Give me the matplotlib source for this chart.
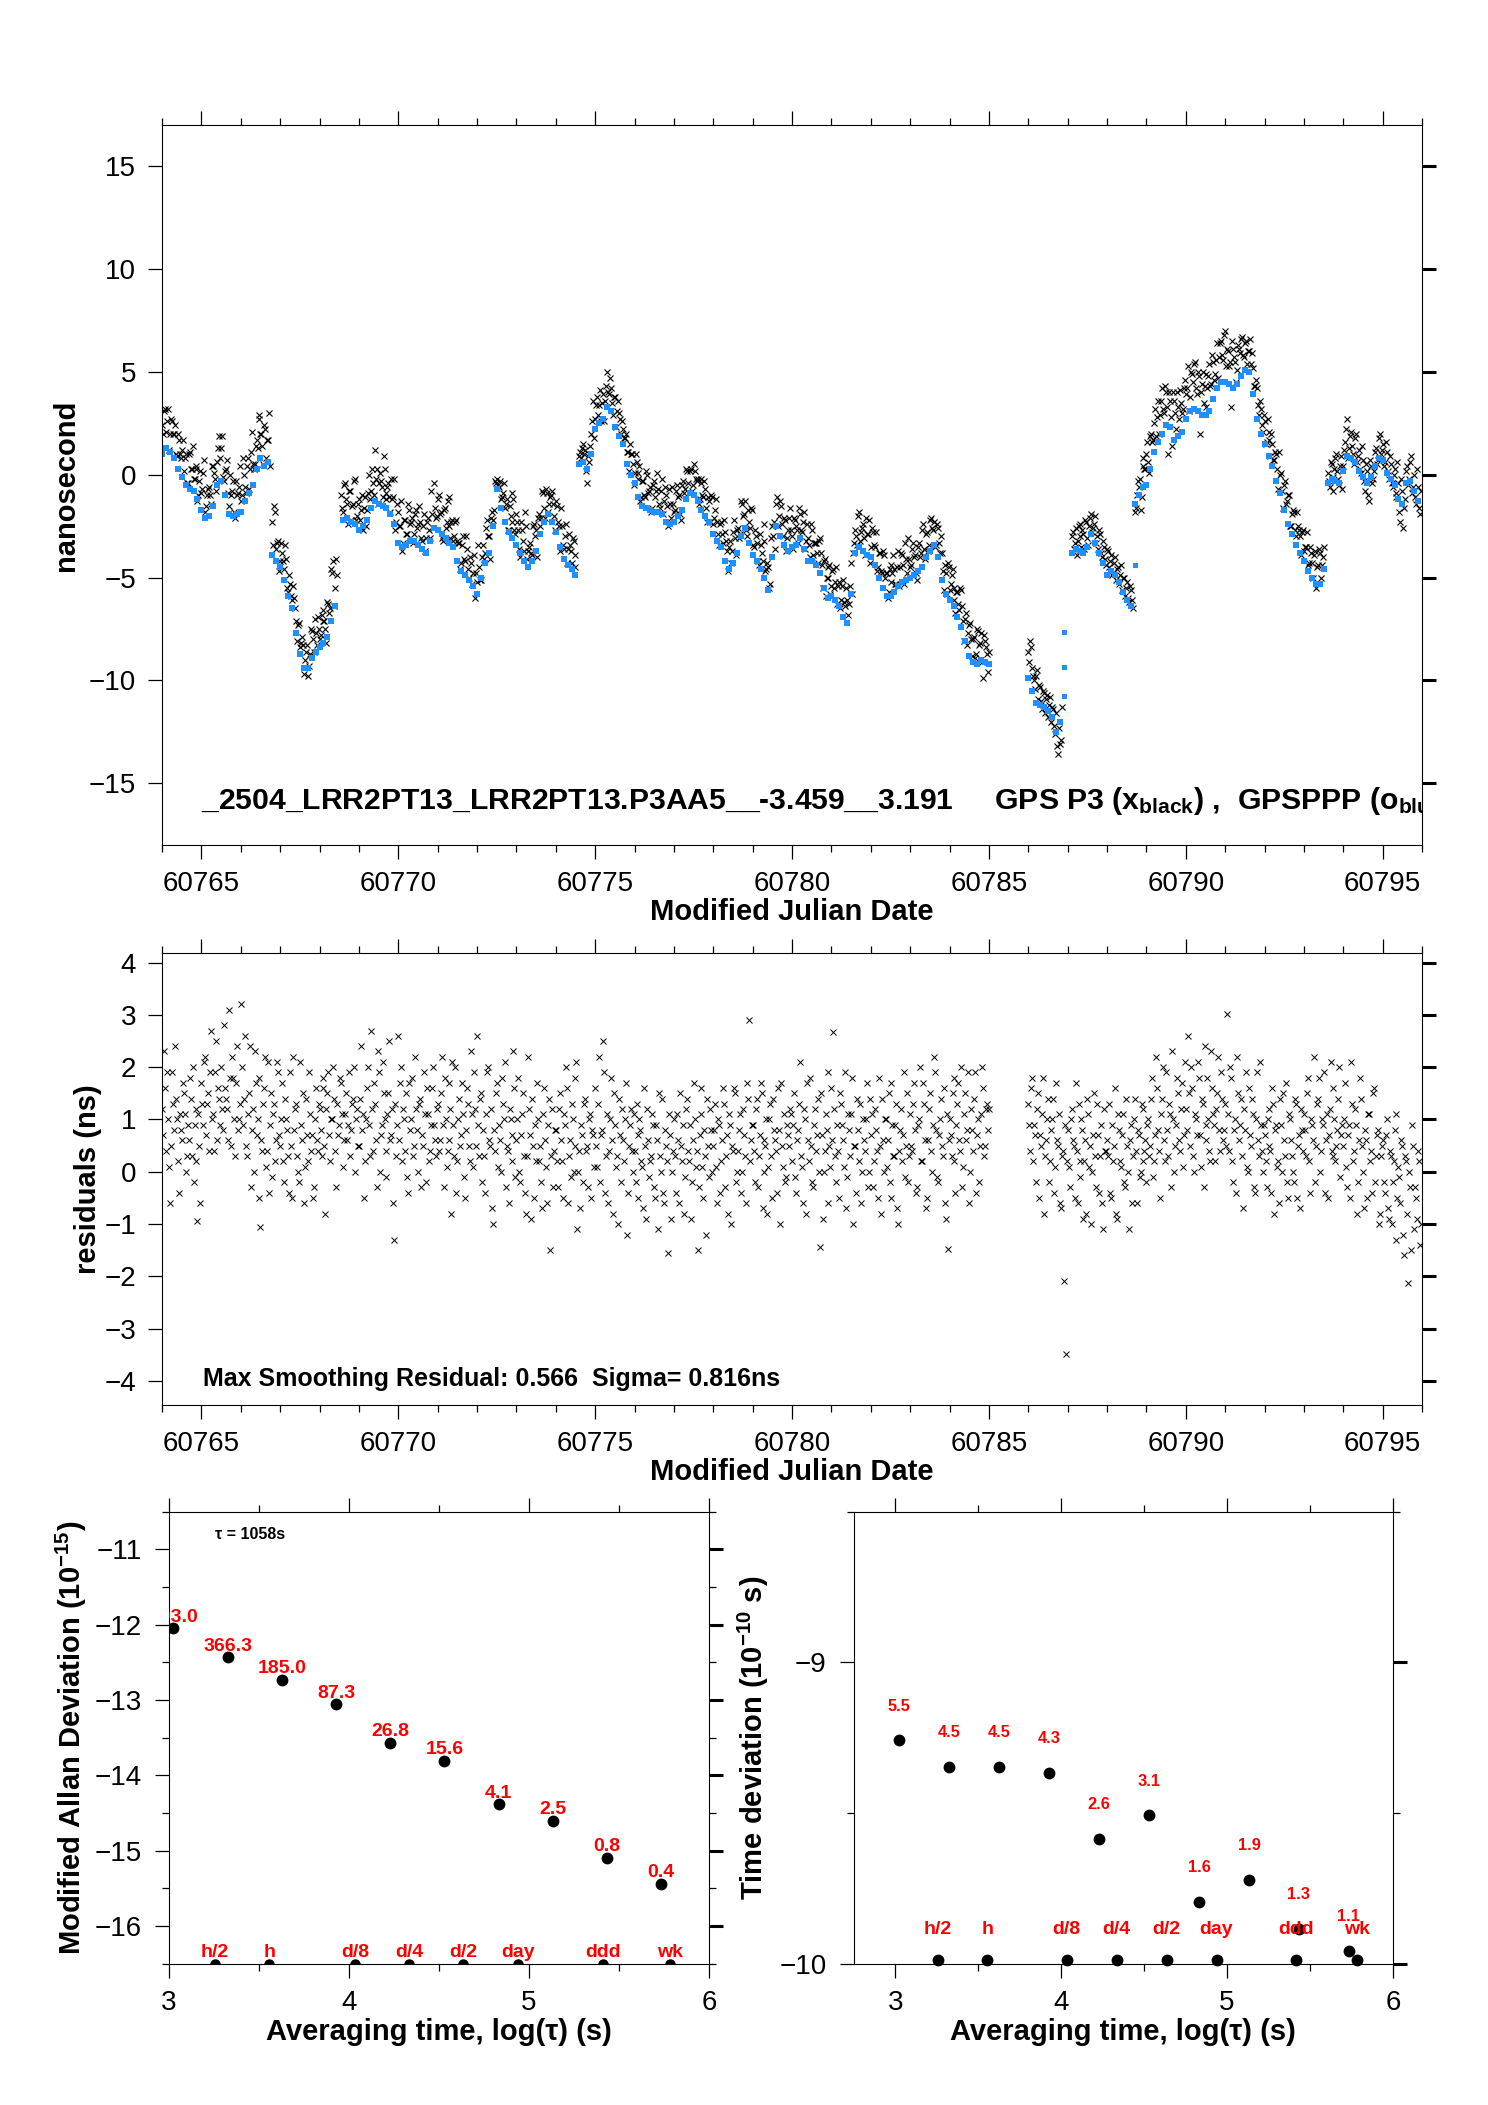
import numpy as np
import matplotlib
matplotlib.use('Agg')
import matplotlib.pyplot as plt
from matplotlib.ticker import MultipleLocator

plt.rcParams['font.family'] = ['Liberation Sans', 'DejaVu Sans']
plt.rcParams['mathtext.fontset'] = 'custom'
plt.rcParams['mathtext.rm'] = 'Liberation Sans:bold'
plt.rcParams['mathtext.it'] = 'Liberation Sans:bold'
plt.rcParams['mathtext.bf'] = 'Liberation Sans:bold'
plt.rcParams['axes.linewidth'] = 0.8

# ---- GPS P3 (black x), one value every 0.05 day from each segment start
p3Start = [60764.00, 60766.80, 60768.55, 60774.60, 60786.00, 60787.10, 60788.70, 60793.60]
p3A = [2.4, 3.1, 2.1, 3.2, 2.0, 2.6, 2.0, 1.0, 2.0, 1.0,
       1.2, 0.2, 1.0, -0.4, 1.1, 0.3, -0.2, 0.4, -1.3, -0.3,
       -0.9, 0.1, -1.8, -1.0, -0.6, -1.4, 0.4, -0.2, 0.6, 1.9,
       1.3, -0.1, 0.2, 0.7, -1.5, -1.0, -0.3, -2.1, -1.0, -0.6,
       -1.3, 0.8, -0.6, 0.4, -0.7, 1.1, 0.5, 0.5, 1.7, 2.9,
       2.0, 1.4, 2.4, 0.8, 1.7, 0.4]
p3B = [-2.3, -1.5, -3.6, -3.2, -4.2, -3.8, -4.6, -4.1, -5.7, -5.3,
       -6.1, -6.0, -7.1, -7.3, -8.4, -7.9, -9.7, -8.6, -9.8, -8.7,
       -7.6, -8.6, -7.7, -6.9, -8.0, -6.8, -7.1, -7.5, -6.2, -6.7,
       -4.6, -4.2, -5.5, -4.9]
p3C = [-1.0, -1.8, -0.4, -1.4, -0.8, -2.2, -1.4, -0.2, -2.0, -1.2, -1.7, -2.7, -1.1, -1.7, 0.0, -0.8, -0.4, 1.2, 0.3, -0.4,
       -0.3, -1.1, 0.3, -0.9, -0.4, -1.8, -1.2, -0.2, -2.3, -1.8, -2.5, -3.7, -2.2, -2.9, -1.4, -2.4, -2.1, -2.9, -1.7, -2.4,
       -2.3, -3.2, -1.9, -3.1, -2.1, -3.1, -1.9, -0.4, -2.1, -1.2, -1.9, -3.1, -1.7, -2.6, -1.3, -2.5, -2.3, -3.2, -2.3, -3.2,
       -3.3, -4.3, -3.0, -4.2, -3.6, -5.0, -4.3, -4.8, -6.0, -5.2, -4.5, -5.1, -3.4, -3.8, -2.2, -3.0, -2.1, -2.2, -0.3, -0.2,
       -0.6, -1.2, -0.9, -1.6, -1.2, -2.7, -2.0, -0.9, -2.7, -1.9, -2.7, -4.0, -2.7, -3.7, -2.5, -3.7, -3.3, -3.9, -2.4, -2.7,
       -2.1, -2.5, -0.8, -1.6, -0.7, -1.8, -1.1, -0.8, -2.0, -1.3, -2.3, -3.7, -2.5, -3.6, -2.4, -3.6, -3.4, -4.3, -3.2, -3.9]
p3D = [0.9, 0.8, 1.5, 1.2, -0.4, 0.6, 2.0, 3.6, 2.7, 3.8, 3.4, 2.6, 3.9, 3.6, 5.0, 3.9, 4.2, 2.9, 3.8, 3.1,
       3.0, 2.0, 2.2, 1.8, 1.1, 0.2, 1.0, 0.5, 0.1, 0.6, -0.2, -1.3, -0.3, -1.0, 0.2, -0.9, -0.6, -1.6, -0.3, -0.8,
       -0.7, -1.6, -0.2, -1.3, -1.0, -2.5, -1.4, -0.6, -1.8, -0.8, -1.1, -1.9, -0.5, -0.9, 0.3, -0.4, 0.2, -0.8, 0.5, -0.2,
       -0.2, -1.2, -0.4, -1.1, -0.7, -2.3, -1.3, -1.0, -2.4, -1.7, -2.3, -3.4, -2.3, -3.3, -2.8, -3.7, -3.5, -4.3, -2.8, -3.1,
       -2.7, -3.1, -1.3, -2.0, -1.3, -3.0, -2.3, -1.6, -3.4, -2.7, -3.3, -4.4, -3.4, -4.2, -3.2, -4.6, -4.5, -5.3, -2.5, -2.3,
       -1.4, -2.5, -1.3, -2.4, -2.1, -3.7, -2.7, -1.6, -3.0, -2.1, -2.5, -3.3, -1.9, -2.8, -1.8, -3.2, -3.1, -4.0, -2.7, -3.3,
       -3.3, -4.3, -3.1, -4.4, -4.2, -5.9, -5.0, -4.4, -5.4, -4.6, -5.2, -6.3, -5.2, -6.1, -5.1, -6.4, -6.1, -6.3, -4.3, -3.8,
       -2.7, -3.4, -1.8, -2.8, -2.4, -3.9, -2.9, -2.2, -3.5, -2.8, -3.5, -4.7, -3.8, -4.7, -3.7, -5.0, -4.8, -5.7, -4.4, -4.8,
       -4.6, -5.3, -3.7, -4.5, -3.9, -5.3, -4.1, -3.1, -4.5, -3.6, -4.0, -4.8, -3.5, -4.0, -2.7, -3.6, -2.9, -3.7, -2.2, -2.6,
       -2.3, -3.4, -2.6, -3.8, -3.8, -5.6, -4.8, -4.3, -5.6, -4.9, -5.5, -6.7, -5.7, -6.6, -5.6, -7.1, -7.0, -8.3, -7.3, -8.0,
       -8.0, -8.9, -7.5, -8.3, -7.7, -9.9, -8.1, -8.7, -8.6]
p3E = [-8.6, -8.1, -9.4, -10.0, -9.8, -10.9, -10.3, -11.4, -10.6, -10.9,
       -11.8, -10.8, -11.3, -12.2, -11.6, -13.6, -13.1, -11.3]
p3F = [-3.0, -3.6, -2.6, -3.2, -2.4, -3.5, -2.9, -2.2, -3.1, -2.5, -1.9, -2.6, -2.0, -3.0, -2.7, -3.8,
       -3.2, -4.1, -3.6, -4.5, -3.9, -4.8, -4.0, -4.6, -5.3, -4.4, -5.0, -5.9, -5.2, -6.2, -5.6, -6.5]
p3G = [-1.8, -1.0, -0.6, -1.7, 0.4, 0.3, 1.0, 0.6, 1.9, 1.6, 2.5, 1.9, 3.6, 2.9, 4.2, 3.0, 4.0, 1.0, 3.6, 1.4,
       3.6, 2.2, 3.3, 4.1, 3.0, 4.2, 3.9, 5.3, 3.8, 4.9, 5.4, 4.2, 5.0, 2.0, 4.4, 3.5, 4.9, 4.2, 5.4, 4.4,
       5.5, 4.9, 6.4, 5.7, 6.5, 5.6, 7.0, 6.1, 5.3, 3.3, 6.1, 5.5, 5.1, 6.1, 6.6, 5.8, 6.4, 5.4, 6.0, 5.4,
       5.2, 4.3, 4.2, 2.9, 3.2, 2.1, 2.6, 1.6, 2.1, 0.9, 1.5, 0.7, 1.0, -0.7, 0.0, -0.8, -0.5, -1.4, -1.0, -2.5,
       -1.9, -1.8, -3.0, -2.5, -3.0, -2.8, -3.7, -3.5, -4.4, -3.5, -4.3, -3.9, -5.5, -4.4, -3.8, -4.4, -3.5]
p3H = [0.1, -0.6, 0.5, -0.1, 0.8, 0.2, -0.5, 0.9, 0.4, 1.6, 2.7, 1.3, 2.1, 1.0, 1.8, 0.6,
       1.2, 0.1, 0.7, -0.8, 0.2, -1.3, 0.4, -0.2, 1.1, 0.5, 1.8, 1.0, 1.5, 0.6, 1.1, -0.2,
       0.5, -0.6, 0.3, -1.1, -0.4, -2.3, -0.8, -1.6, 0.2, -0.5, 0.6, -0.9, 0.0, -1.4, -0.6, -1.9]

# second interleaved set of P3 samples (0.025 day later)
p3Start2 = [60764.025, 60766.825, 60768.575, 60774.625, 60786.025, 60787.125, 60788.725, 60793.625]
p3A2 = [2.0, 3.2, 2.6, 1.2, 2.7, 2.0, 2.4, 0.9, 1.7, 0.8, 1.7, 0.8, -0.4, 1.0, 0.3, 1.4, -0.2, 0.3, -1.0, 0.2,
        -0.7, 0.7, -1.5, -0.7, -1.0, 0.4, 0.1, -0.8, 1.3, 0.8, 1.9, -0.3, 0.3, -0.9, 0.0, -0.8, -1.8, -0.3, -0.9, 0.4,
        -1.0, 0.0, -0.9, 0.8, 0.3, 2.1, 0.3, 1.4, 1.3, 2.7, 2.0, 0.5, 2.2, 1.7, 3.0]
p3B2 = [-3.4, -1.8, -3.3, -4.7, -3.3, -4.2, -3.4, -5.5, -4.9, -5.9, -5.4, -6.5, -8.1, -7.2, -8.2, -8.3, -9.0,
        -8.3, -9.3, -7.5, -8.0, -7.0, -8.3, -7.5, -7.8, -6.6, -7.1, -8.2, -6.3, -6.5, -4.8, -6.4, -4.1]
p3C2 = [-1.6, -0.5, -1.2, -2.4, -0.8, -1.5, -0.3, -2.2, -1.4, -2.2, -1.0, -1.6, -2.5, -0.9, -1.2, 0.3, -1.0, -0.2, -1.4, 0.1,
        -0.6, 0.9, -1.2, -0.6, -1.1, -0.2, -1.1, -2.7, -1.4, -2.5, -1.3, -3.3, -2.2, -2.9, -1.7, -2.3, -3.3, -1.9, -2.6, -1.5,
        -3.1, -2.5, -3.7, -2.3, -2.7, -0.8, -2.6, -1.6, -2.0, -1.0, -1.8, -3.2, -1.6, -2.3, -1.1, -3.1, -2.2, -3.0, -2.2, -3.3,
        -4.6, -3.4, -4.1, -3.0, -4.6, -4.0, -5.3, -3.9, -4.8, -3.4, -5.1, -4.0, -4.1, -2.6, -3.0, -4.1, -1.8, -1.7, -0.4, -0.5,
        -0.3, -1.1, -0.4, -1.4, -2.7, -1.5, -2.3, -1.2, -2.9, -2.3, -3.6, -2.3, -3.2, -1.8, -4.1, -3.5, -3.8, -2.5, -3.0, -4.0,
        -1.9, -2.1, -0.9, -2.1, -0.9, -1.4, -1.0, -1.4, -2.7, -1.5, -2.5, -1.6, -3.4, -3.0, -4.3, -2.9, -3.7, -3.1, -4.5]
p3D2 = [1.1, 1.3, 1.0, 0.2, 0.9, 1.4, 2.6, 1.8, 3.4, 2.9, 4.1, 3.5, 2.6, 4.3, 4.0, 4.7, 3.5, 3.8, 2.3, 3.6, 2.7, 2.6, 1.8, 2.0,
        1.1, 1.5, 1.0, -0.5, 1.0, 0.1, 0.4, -1.1, -0.3, -1.1, 0.0, -0.8, -1.8, -0.5, -1.1, 0.1, -1.4, -0.8, -1.9, -0.6, -1.5, -0.7, -2.1, -1.4,
        -1.7, -0.5, -1.0, -2.2, -0.3, -0.7, 0.2, -0.9, 0.3, -0.5, 0.2, -0.3, -1.4, -0.2, -1.0, -0.3, -1.6, -1.1, -2.3, -1.1, -2.1, -1.2, -2.9, -2.4,
        -2.9, -2.2, -3.2, -4.7, -3.2, -3.7, -2.2, -3.9, -2.6, -2.9, -1.4, -1.9, -2.7, -1.7, -2.6, -1.7, -3.5, -3.0, -4.2, -2.9, -3.8, -2.4, -4.7, -4.3,
        -5.5, -3.1, -3.0, -3.6, -1.1, -2.0, -1.5, -3.0, -2.2, -3.1, -2.1, -2.7, -3.6, -2.2, -2.7, -1.6, -2.7, -2.3, -3.6, -2.4, -3.4, -2.4, -3.9, -3.3,
        -3.8, -3.2, -3.8, -5.5, -4.1, -5.0, -4.5, -5.8, -4.7, -5.5, -4.5, -5.4, -6.5, -5.4, -6.2, -5.5, -6.8, -5.4, -5.8, -3.3, -3.0, -2.0, -3.2, -2.6,
        -3.1, -2.1, -2.9, -4.3, -2.6, -3.4, -2.8, -4.5, -3.8, -4.8, -3.9, -4.8, -6.0, -4.6, -5.2, -3.9, -5.3, -4.5, -5.4, -3.8, -4.4, -3.3, -4.8, -4.1,
        -4.4, -3.3, -3.9, -5.1, -3.3, -3.8, -2.4, -4.1, -2.8, -3.4, -2.1, -2.7, -3.5, -2.4, -3.3, -3.0, -4.7, -4.4, -5.8, -4.5, -5.3, -4.6, -6.1, -5.7,
        -6.3, -5.5, -6.4, -8.1, -6.7, -7.7, -7.2, -8.8, -7.9, -8.7, -7.6, -8.2, -9.1, -7.8, -8.4, -9.6]
p3E2 = [-9.1, -8.4, -9.8, -10.4, -9.5, -10.2, -11.0, -10.5, -11.6, -10.7, -11.2, -12.0, -11.4, -12.6, -13.2, -12.3, -12.9]
p3F2 = [-2.8, -3.3, -3.9, -2.5, -3.0, -2.7, -3.6, -2.3, -3.4, -2.1, -2.8, -2.4, -3.3, -3.6, -2.9, -4.0,
        -3.5, -4.4, -3.7, -4.2, -4.9, -4.3, -5.1, -4.5, -4.9, -5.6, -5.0, -5.5, -6.0, -5.4, -6.1]
p3G2 = [-1.6, -0.3, -0.2, -1.1, 0.8, 0.3, 1.6, 0.1, 2.0, 1.7, 3.2, 2.8, 2.0, 3.6, 3.2, 4.3, 3.3, 4.0, 2.8, 4.0, 3.0, 4.0, 2.7, 3.5,
        3.2, 4.6, 4.2, 3.1, 5.0, 4.5, 5.5, 3.9, 4.8, 4.0, 5.0, 4.3, 3.3, 4.8, 4.3, 5.8, 4.6, 5.6, 4.7, 6.4, 5.8, 6.8, 5.3, 6.0,
        5.5, 6.5, 5.7, 4.5, 6.3, 5.9, 6.7, 5.7, 6.5, 6.0, 6.6, 5.9, 4.3, 4.6, 3.4, 3.6, 2.4, 2.9, 1.5, 2.7, 1.7, 2.0, 0.7, 1.1,
        0.3, 1.1, 0.1, -1.6, -0.3, -1.3, -1.0, -2.5, -1.7, -2.7, -1.8, -2.7, -3.9, -2.7, -3.5, -2.8, -4.3, -3.8, -5.0, -3.7, -4.5, -3.6, -5.0, -4.0]
p3H2 = [-0.3, 0.6, -0.8, 0.3, 1.0, -0.2, 0.4, -0.7, 1.2, 2.2, 0.8, 1.9, 1.4, 0.5, 2.0, 0.9,
        0.3, 1.4, -0.3, 0.5, -1.0, 0.7, -0.4, 0.2, 1.3, 0.7, 2.0, 1.2, 0.4, 1.6, 0.2, 0.9,
        -0.4, 0.0, -0.9, 0.6, -1.8, -0.2, -2.6, -1.2, 0.4, -0.2, 0.9, -0.6, -1.1, 0.3, -1.6, -0.8]
p3Segs = [p3A, p3B, p3C, p3D, p3E, p3F, p3G, p3H]
p3Segs2 = [p3A2, p3B2, p3C2, p3D2, p3E2, p3F2, p3G2, p3H2]

# ---- GPSPPP (blue), one value every 0.1 day from each segment start
pppStart = [60764.0, 60766.8, 60768.6, 60774.6, 60786.0, 60787.1, 60788.7, 60793.6]
pppA = [1.0, 1.3, 1.1, 0.8, 0.3, -0.1, -0.5, -0.7, -0.8, -1.2, -1.7, -2.1, -2.0, -1.5,
        -0.5, -0.3, -1.0, -1.9, -2.0, -1.9, -1.8, -1.3, -0.9, -0.5, 0.3, 0.8, 0.4, 0.6]
pppB = [-3.9, -4.2, -4.5, -5.1, -5.9, -6.5, -7.7, -8.7, -9.4, -9.4, -8.9, -8.6, -8.4, -8.2, -7.9, -7.1, -6.4]
pppC = [-2.2, -2.1, -2.3, -2.4,
        -2.7, -2.5, -2.2, -1.6, -1.3, -1.4, -1.5, -1.6, -1.9, -2.4,
        -3.3, -3.5, -3.4, -3.2, -3.2, -3.4, -3.6, -3.8, -3.2, -2.6,
        -2.7, -2.9, -3.1, -3.3, -3.5, -4.2, -4.7, -4.9, -5.1, -5.4,
        -5.8, -5.0, -4.3, -3.8, -2.5, -0.7, -1.6, -2.3, -2.8, -3.1,
        -3.4, -3.8, -4.2, -4.5, -4.2, -3.7, -2.9, -2.3, -1.9, -2.3,
        -2.8, -3.5, -4.1, -4.4, -4.6, -4.9]
pppD = [0.5, 0.6, 0.3, 1.0,
        2.2, 2.5, 2.7, 3.3, 3.1, 2.3, 1.9, 1.5, 0.5, 0.0,
        -0.4, -1.1, -1.5, -1.6, -1.7, -1.8, -1.8, -1.9, -2.3, -2.4,
        -2.3, -2.0, -1.7, -1.2, -0.9, -1.0, -1.3, -1.7, -2.0, -2.3,
        -2.9, -3.2, -3.5, -4.2, -4.6, -4.3, -3.8, -3.0, -2.6, -3.3,
        -3.9, -4.2, -4.6, -5.0, -5.6, -4.0, -2.5, -3.0, -3.4, -3.7,
        -3.5, -3.4, -3.1, -3.6, -4.2, -4.2, -4.4, -4.8, -5.5, -6.0,
        -5.9, -6.1, -6.4, -6.9, -7.2, -5.8, -3.8, -3.5, -3.7, -3.9,
        -4.0, -4.4, -5.0, -5.5, -5.9, -5.9, -5.7, -5.4, -5.2, -5.1,
        -5.0, -4.9, -4.7, -4.5, -4.0, -3.7, -3.4, -4.0, -5.1, -5.8,
        -6.1, -6.4, -6.9, -7.4, -8.1, -8.8, -9.1, -9.2, -9.0, -9.1,
        -9.2]
pppE = [-9.9, -10.5, -11.1, -11.2, -11.3, -11.5, -11.8, -12.5, -12.0]
pppF = [-3.8, -3.6, -3.7, -3.8, -3.5, -2.9, -3.3, -3.8, -4.3, -4.9, -4.7, -4.9, -5.2, -5.7, -6.1, -6.4]
pppG = [-1.4, -1.0, -0.6,
        -0.5, 0.3, 1.1, 1.6, 2.0, 2.4, 2.3, 1.7, 1.9, 2.1,
        2.7, 3.1, 3.2, 3.1, 2.9, 2.9, 3.1, 3.7, 4.2, 4.5,
        4.5, 4.4, 4.2, 4.4, 4.8, 5.1, 5.0, 3.9, 2.7, 2.0,
        1.5, 0.9, 0.4, -0.3, -0.9, -1.7, -2.4, -2.9, -3.4, -3.8,
        -4.2, -4.7, -5.0, -5.3, -5.3, -4.6]
pppH = [-0.4, -0.2, -0.3, -0.4, 0.2, 0.9, 0.8, 0.6, 0.2, -0.1, -0.4, -0.1,
        0.4, 0.8, 0.7, 0.1, -0.2, -0.5, -1.2, -1.4, -0.4, -0.3, -0.8, -1.3]
pppSegs = [pppA, pppB, pppC, pppD, pppE, pppF, pppG, pppH]
pppLoneMjd = [60786.91, 60786.91, 60786.90, 60788.71]
pppLoneVal = [-7.65, -9.35, -10.75, -4.38]

# ---- residuals (ns), one value every 0.05 day, two interleaved sets
resStart = [60764.0, 60786.0]
resA = [1.2, 2.3, 0.4, 1.0, -0.6, 1.9, 0.8, 1.4, 0.2, 1.1, 0.6, 1.5, 0.0, 0.9, 1.8, 0.3, -0.2, 1.2, -0.95, 0.5,
        1.7, 0.9, 2.2, 1.3, 0.4, 2.7, 1.1, 1.9, 0.6, 1.4, 2.0, 0.8, 1.6, 1.2, 3.1, 0.5, 1.8, 0.3, 2.4, 1.0,
        3.2, 0.9, 2.6, 0.3, 1.5, -0.3, 1.2, 2.3, 0.7, 1.8, -1.05, 0.4, 1.6, 0.1, 2.1, 0.9, -0.1, 1.3, 0.6, 1.9,
        0.5, 1.7, -0.2, 1.0, 0.3, 1.9, -0.5, 0.8, 1.3, 0.0, 2.1, 0.6, -0.6, 1.4, 0.2, 1.1, 0.7, -0.3, 1.6, 0.4,
        1.2, 0.3, 1.8, -0.8, 1.5, 0.7, 1.0, 2.0, 0.4, 1.3, 0.9, 1.7, 0.1, 1.1, 0.6, 1.9, 0.8, 1.4, 0.0, 1.2,
        0.5, 2.4, 1.1, 0.2, 1.6, 0.9, 2.7, 0.4, 1.3, -0.3, 1.9, 0.7, 2.1, 1.0, -0.1, 1.5, 0.6, 1.2, -1.3, 0.3,
        2.6, 1.7, 0.2, 1.0, 1.5, -0.4, 0.8, 1.8, 0.5, 1.2, 0.0, 1.4, 0.7, 1.9, -0.2, 1.1, 0.4, 1.6, 0.9, 0.3,
        1.3, 0.6, 2.2, -0.3, 1.0, 0.4, 1.7, -0.8, 0.9, 2.0, 0.2, 1.4, 0.7, 1.1, -0.5, 1.6, 0.5, 2.3, 0.1, 1.2,
        2.6, 0.3, 1.5, 0.8, -0.4, 1.9, 0.6, 1.2, -1.0, 0.4, 1.7, 0.9, 0.0, 1.3, 2.1, 0.5, -0.6, 1.0, 0.2, 1.6,
        0.6, 1.8, -0.2, 1.1, 0.3, -0.8, 2.2, 0.7, 1.4, -0.5, 0.2, 1.0, 0.5, -0.7, 1.6, 0.1, 0.9, -1.5, 1.2, 0.4,
        0.8, -0.3, 1.5, 0.2, 1.1, 2.0, -0.6, 0.6, 1.3, 0.0, 1.8, -1.1, 0.4, 0.9, -0.2, 1.4, 0.5, 1.0, -0.5, 0.7,
        1.6, 0.1, 2.2, 0.7, 2.5, -0.4, 1.1, 0.4, 1.8, -0.8, 0.9, 0.3, 1.4, -0.2, 0.6, 1.0, -1.2, 0.5, 1.2, 0.0,
        0.4, 1.3, -0.5, 0.8, 0.1, 1.6, -0.9, 0.6, 0.2, 1.1, -0.3, 0.9, -1.1, 0.3, 1.4, -0.6, 0.5, -1.55, 0.7, 0.0,
        1.0, -0.4, 0.6, 1.5, 0.2, -0.8, 1.2, 0.4, 0.9, -0.2, 1.7, 0.1, -1.5, 0.7, 1.1, -0.5, 0.3, 1.4, -0.1, 0.8,
        0.5, 1.3, -0.6, 0.9, 0.2, 1.6, -0.3, 0.7, 1.1, -1.0, 0.4, 1.5, 0.0, 0.8, -0.4, 1.2, 0.3, 1.7, 2.9, 0.6,
        0.9, -0.2, 1.4, 0.3, 1.7, -0.7, 0.6, 1.0, 0.1, 1.3, -0.5, 0.8, 0.4, 1.6, -1.0, 0.5, 1.1, -0.1, 0.7, 1.2,
        0.2, 1.5, -0.4, 0.8, 2.1, 0.1, 1.2, -0.8, 0.6, 1.8, -0.2, 0.9, 0.4, 1.4, -1.44, 0.7, 0.0, 1.1, -0.6, 0.5,
        1.6, 2.68, 0.3, 0.9, -0.5, 1.3, 0.6, 1.9, -0.1, 0.8, 1.1, -1.0, 0.5, 1.4, 0.2, -0.6, 1.0, 0.4, 1.7, 0.0,
        0.7, -0.3, 1.2, 0.4, 1.8, -0.8, 0.6, 1.0, 0.1, 1.5, -0.5, 0.9, 0.3, 1.3, -1.0, 0.8, 0.2, 1.9, 0.5, -0.2,
        1.1, 0.4, 1.7, -0.4, 0.9, 2.0, 0.2, 1.3, -0.7, 0.6, 1.5, 0.0, 2.2, 0.8, -0.2, 1.0, 0.5, 1.6, -0.9, -1.47,
        1.0, 0.3, 1.8, -0.4, 1.3, 0.6, 2.0, 0.1, 1.5, 0.8, -0.6, 1.2, 0.4, 1.9, 0.7, -0.2, 1.1, 1.6, 0.5, 1.3,
        1.2]
resB = [1.3, 0.4, 1.8, 0.9, -0.2, 1.5, 0.7, 1.1, -0.8, 0.6, 1.4, 0.2, 1.0, -0.4, 1.7, 0.5, -0.6, 0.3, -2.08, -3.48,
        0.8, -0.3, 1.2, 0.5, 1.7, -0.6, 0.2, 1.0, -0.9, 0.6, 1.4, 0.1, -1.0, 0.7, 0.3, 1.3, -0.4, 0.9, -1.1, 0.4,
        0.6, 1.3, -0.5, 0.2, 1.6, -0.9, 0.8, 0.1, 1.1, -0.3, 0.5, -1.1, 0.9, 0.3, 1.4, -0.6, 0.7, 0.0, 1.2, 0.4,
        -0.2, 1.0, 0.5, 1.8, 0.2, 2.2, 0.8, -0.5, 1.4, 0.6, 1.9, 0.3, 1.1, 2.3, 0.0, 0.9, 1.5, 0.4, 1.7, 0.7,
        1.2, 2.6, 0.5, 1.6, 0.0, 1.0, 2.1, 0.7, 1.4, -0.3, 0.9, 1.8, 0.4, 2.3, 1.1, 0.2, 1.5, 0.8, 1.9, 0.6,
        1.3, 3.02, 0.4, 1.8, -0.2, 1.0, 2.2, 0.6, 1.4, -0.7, 0.8, 0.1, 1.6, 0.5, 1.1, -0.4, 1.9, 0.3, 0.9, 0.0,
        0.7, -0.3, 1.2, 0.4, 1.6, -0.8, 0.9, 0.2, 1.4, 0.0, 0.6, 1.7, -0.5, 1.0, 0.3, -0.2, 1.3, 0.5, -0.7, 0.8,
        1.1, 0.3, 1.8, -0.4, 0.9, 2.2, 0.5, 1.4, 0.0, 1.0, 1.9, 0.6, -0.5, 1.2, 0.4, 1.6, 0.2, 0.8, 2.0, 0.7,
        0.5, 1.7, -0.3, 0.9, 2.1, 0.2, 1.2, -0.8, 0.6, 1.4, 0.0, 0.8, -0.5, 1.1, 0.4, 1.5, -0.2, 0.7, -1.0, 0.3,
        0.6, -0.4, 1.0, -0.9, 0.3, -0.2, 0.8, -1.3, 0.1, -0.6, 0.5, -1.6, 0.2, -2.12, -0.3, 0.9, -1.1, -0.5, 0.4, -1.4]
resStart2 = [60764.025, 60786.025]
resA2 = [0.7, 1.6, 1.9, 0.1, 0.5, 1.3, 2.4, 1.0, -0.4, 0.8, 1.7, 1.1, 0.3, 0.6, 1.4, 2.0, 0.9, 0.2, 1.1, -0.6,
         1.3, 2.1, 0.7, 1.5, 1.9, 1.0, 0.4, 2.5, 1.6, 0.9, 1.2, 2.8, 1.4, 0.6, 1.8, 2.2, 1.0, 1.7, 0.8, 1.3,
         2.0, 1.4, 0.5, 1.1, 2.4, 0.8, 0.0, 1.7, 1.0, -0.5, 0.6, 1.3, 2.2, 0.4, -0.4, 1.5, 1.1, 0.2, 2.1, 0.7,
         1.0, 0.2, 1.4, 0.8, -0.4, 0.5, 2.2, 1.2, 0.3, -0.2, 0.9, 1.5, 0.1, 0.7, 1.9, 0.4, -0.5, 1.0, 0.6, 1.3,
         0.8, 1.6, 0.5, 1.2, 1.9, 0.2, 1.0, 1.4, -0.3, 0.7, 1.8, 1.1, 0.6, 1.5, 0.9, 0.3, 1.3, 2.0, 1.0, 0.5,
         1.4, 0.8, -0.5, 1.0, 2.0, 0.3, 1.2, 1.7, 0.6, 2.3, 0.0, 0.9, 1.5, 0.4, 1.1, 2.5, 0.7, -0.6, 1.3, 0.9,
         0.6, 2.0, 1.2, 0.4, -0.1, 1.7, 1.0, 0.3, 2.2, 0.8, 1.3, -0.3, 0.5, 1.1, 1.6, 0.2, 0.9, 2.0, 0.6, 1.2,
         0.4, 1.5, 0.9, 1.8, 0.1, 0.6, 1.2, 2.1, 0.3, -0.4, 1.0, 0.5, 1.7, -0.1, 0.8, 1.3, 0.2, 1.1, 1.9, 0.5,
         0.9, 1.4, -0.2, 0.3, 1.1, 2.0, 0.5, -0.7, 0.8, 1.5, 0.1, 0.6, 1.8, 1.0, -0.3, 0.4, 1.2, 0.7, 2.3, -0.1,
         1.0, 0.0, 0.7, 1.5, -0.4, 0.3, 1.2, -0.9, 0.5, 0.9, 1.7, 0.2, -0.2, 1.1, 0.6, -0.6, 1.4, 0.3, -0.3, 0.8,
         0.2, 1.2, 0.6, -0.5, 0.9, 1.6, 0.3, -0.1, 1.0, 0.5, 2.1, 0.0, -0.7, 0.7, 1.3, 0.4, -0.3, 1.1, 0.8, 0.1,
         0.5, 1.3, -0.2, 0.8, 1.9, 0.3, -0.6, 1.0, 0.6, 1.5, 0.1, -1.0, 0.7, 1.2, 0.2, 1.7, -0.4, 0.9, 0.4, 1.1,
         -0.2, 0.7, 1.0, 0.2, -0.7, 0.5, 1.2, -0.1, 0.3, 0.9, -0.5, 0.6, 1.5, 0.0, -0.4, 0.8, 0.2, 1.1, -0.9, 0.4,
         0.3, 1.1, -0.6, 0.5, 0.9, -0.1, 1.4, 0.2, -0.9, 0.6, 1.0, 0.4, -0.3, 1.6, 0.1, 0.8, -1.2, 0.5, 1.2, 0.0,
         0.8, 0.1, 1.0, -0.4, 0.6, 1.3, 0.3, -0.8, 0.9, 0.5, 1.6, -0.2, 0.4, 1.1, 0.0, 0.7, -0.6, 1.4, 0.2, 0.9,
         0.4, 1.2, -0.3, 0.7, 1.5, 0.0, 0.5, -0.8, 1.0, 0.3, 1.4, 0.6, -0.4, 0.8, 1.7, 0.1, -0.2, 0.9, 0.5, 1.1,
         0.9, -0.1, 0.6, 1.3, 0.3, -0.6, 1.0, 1.7, 0.2, 0.5, -0.3, 1.2, 0.7, 0.0, 1.5, -0.9, 0.4, 0.8, 1.9, 0.1,
         0.6, 1.2, -0.2, 0.4, 1.5, 0.9, 0.1, -0.7, 1.1, 0.3, 1.8, 0.5, -0.4, 0.8, 1.3, 0.0, 0.6, 1.0, -0.3, 1.4,
         1.1, 0.2, 0.8, -0.5, 0.5, 1.4, 0.0, 1.0, 0.6, -0.2, 1.7, 0.3, 0.9, -0.7, 0.4, 1.2, 0.7, -0.1, 1.5, 0.3,
         0.5, 1.3, 0.8, -0.3, 1.0, 0.2, 1.7, 0.6, -0.5, 1.2, 0.4, 0.9, 1.9, -0.1, 0.7, 1.4, 0.3, -0.6, 1.1, 0.6,
         0.7, 1.5, 0.2, 0.9, 1.7, 0.4, -0.3, 1.1, 0.6, 1.9, 0.0, 0.8, 1.4, -0.4, 1.0, 0.5, 2.0, 0.3, 1.2, 0.8]
resB2 = [0.9, 1.6, 0.2, 0.7, 1.2, -0.5, 0.5, 1.8, 0.3, 1.0, -0.2, 0.8, 1.4, 0.1, 0.6, 1.1, -0.7, 0.4, 0.9, 0.2,
         0.1, 1.0, 0.6, -0.5, 0.4, 1.3, -0.1, 0.8, 0.2, -0.8, 1.1, 0.5, 0.0, 1.5, -0.3, 0.7, 0.3, -0.6, 1.2, 0.4,
         0.3, -0.4, 0.9, 0.5, -0.8, 1.1, 0.2, 0.7, -0.2, 1.4, 0.0, 0.6, -0.6, 1.0, 0.4, 0.8, -0.1, 1.3, 0.2, 0.6,
         0.9, 0.3, 1.4, -0.1, 0.7, 1.6, 0.4, 1.1, 2.0, 0.2, 0.8, 1.3, -0.3, 1.0, 0.5, 1.8, 0.6, 1.2, 0.1, 2.1,
         0.8, 1.5, 2.0, 0.3, 1.1, 0.7, 1.8, 0.1, 1.3, 2.4, 0.6, 1.0, 0.2, 1.6, 0.9, 1.2, 2.2, 0.4, 1.4, 0.8,
         0.5, 1.1, 2.0, 0.2, 0.8, -0.4, 1.5, 0.9, 0.3, 1.2, 1.9, 0.0, 0.7, 1.4, -0.3, 1.0, 0.6, 2.1, 0.4, 0.9,
         0.2, 1.0, 0.5, -0.4, 1.3, 0.8, 0.1, -0.6, 0.9, 1.5, 0.3, -0.2, 1.1, 0.6, 0.0, 1.4, -0.5, 0.7, 1.2, 0.4,
         0.8, 1.5, 0.2, 1.0, 0.6, -0.2, 1.3, 1.8, 0.4, 0.9, -0.4, 1.1, 0.7, 2.1, 0.3, 1.0, 0.5, 1.4, -0.1, 0.9,
         1.0, 0.1, 0.7, -0.5, 1.3, 0.4, 0.9, -0.2, 1.8, 0.5, -0.7, 0.6, 1.1, 0.2, -0.4, 1.6, 0.3, 0.8, -0.8, 0.5,
         -0.2, 0.7, -0.7, 0.4, -1.0, 0.2, 1.1, -0.5, -0.1, 0.6, -1.2, 0.3, -0.8, 0.0, -1.5, 0.5, -0.3, -0.9, 0.2, -1.0]
resSegs = [resA, resB]
resSegs2 = [resA2, resB2]

mjdTicks = [60765, 60770, 60775, 60780, 60785, 60790, 60795]

# ---- stability
tauSec = [1058, 2116, 4232, 8464, 16928, 33856, 67712, 135424, 270848, 541696]
adevVal = [893.0, 366.3, 185.0, 87.3, 26.8, 15.6, 4.1, 2.5, 0.8, 0.36]   # 1e-15
tdevVal = [5.5, 4.5, 4.5, 4.3, 2.6, 3.1, 1.6, 1.9, 1.3, 1.1]             # 1e-10 s
markName = ['h/2', 'h', 'd/8', 'd/4', 'd/2', 'day', 'ddd', 'wk']
markSec = [1800, 3600, 10800, 21600, 43200, 86400, 259200, 604800]


def styleAxes(ax, majLen, minLen, pad):
    ax.tick_params(which='both', direction='out', top=True, right=True,
                   labeltop=False, labelright=False, labelsize=20, width=0.9)
    ax.tick_params(which='major', length=majLen, pad=pad)
    ax.tick_params(which='minor', length=minLen)
    for t in ax.yaxis.get_major_ticks():
        t.tick2line.set_markeredgewidth(2.2)


fig = plt.figure(figsize=(14.88, 21.05), dpi=100)

# top panel
axTop = fig.add_axes([0.1089, 0.5986, 0.8468, 0.3420])
for starts, segs in [(p3Start, p3Segs), (p3Start2, p3Segs2)]:
    for start, vals in zip(starts, segs):
        t = start + 0.05 * np.arange(len(vals))
        axTop.plot(t, vals, 'x', color='black', ms=5.0, mew=0.8)
for start, vals in zip(pppStart, pppSegs):
    t = start + 0.1 * np.arange(len(vals))
    axTop.plot(t, vals, 's', color='#1e90ff', ms=4.0, mew=0)
axTop.plot(pppLoneMjd, pppLoneVal, 's', color='#1e90ff', ms=3.6, mew=0)
axTop.set_xlim(60764, 60796)
axTop.set_ylim(-18, 17)
axTop.set_xticks(mjdTicks, [str(m) for m in mjdTicks])
axTop.xaxis.set_minor_locator(MultipleLocator(1))
axTop.set_yticks([-15, -10, -5, 0, 5, 10, 15])
styleAxes(axTop, 10, 5, 8.5)
axTop.set_xlabel('Modified Julian Date', fontsize=21, fontweight='bold', labelpad=1)
axTop.set_ylabel('nanosecond', fontsize=21, fontweight='bold')
axTop.yaxis.set_label_coords(-0.065, 0.5)
axTop.text(60765.0, -16.26,
           '_2504_LRR2PT13_LRR2PT13.P3AA5__-3.459__3.191     GPS P3 (x$_{black}$) ,  GPSPPP (o$_{blue}$)',
           fontsize=21.7, fontweight='bold', va='baseline', clip_on=True)

# residual panel
axRes = fig.add_axes([0.1089, 0.3325, 0.8468, 0.2147])
for starts, segs in [(resStart, resSegs), (resStart2, resSegs2)]:
    for start, vals in zip(starts, segs):
        t = start + 0.05 * np.arange(len(vals))
        axRes.plot(t, vals, 'x', color='black', ms=4.4, mew=0.7)
axRes.set_xlim(60764, 60796)
axRes.set_ylim(-4.46, 4.18)
axRes.set_xticks(mjdTicks, [str(m) for m in mjdTicks])
axRes.xaxis.set_minor_locator(MultipleLocator(1))
axRes.set_yticks([-4, -3, -2, -1, 0, 1, 2, 3, 4])
styleAxes(axRes, 10, 5, 8.5)
axRes.set_xlabel('Modified Julian Date', fontsize=21, fontweight='bold', labelpad=1)
axRes.set_ylabel('residuals (ns)', fontsize=21, fontweight='bold')
axRes.yaxis.set_label_coords(-0.048, 0.5)
axRes.text(60765.05, -4.09, 'Max Smoothing Residual: 0.566  Sigma= 0.816ns',
           fontsize=18, fontweight='bold', va='baseline')

# modified Allan deviation
axAdev = fig.add_axes([0.1136, 0.0672, 0.3629, 0.2147])
logTau = np.log10(tauSec)
adevLog = np.log10(adevVal) - 15
axAdev.plot(logTau, adevLog, 'o', color='black', ms=7.5)
for x, y, v in zip(logTau, adevLog, adevVal):
    axAdev.annotate('%.1f' % v, (x, y), xytext=(0, 4.75), textcoords='offset points',
                    ha='center', va='baseline', color='red', fontsize=14,
                    fontweight='bold', clip_on=True)
logMark = np.log10(markSec)
axAdev.plot(logMark, np.zeros(len(logMark)), 'o', color='black', ms=6.5,
            transform=axAdev.get_xaxis_transform())
for x, name in zip(logMark, markName):
    axAdev.annotate(name, (x, 0), xycoords=axAdev.get_xaxis_transform(), xytext=(0, 4.75),
                    textcoords='offset points', ha='center', va='baseline',
                    color='red', fontsize=14, fontweight='bold')
axAdev.text(3.255, -10.87, 'τ = 1058s', fontsize=11.5, fontweight='bold')
axAdev.set_xlim(3, 6)
axAdev.set_ylim(-16.5, -10.5)
axAdev.set_xticks([3, 4, 5, 6])
axAdev.xaxis.set_minor_locator(MultipleLocator(0.5))
axAdev.set_yticks([-16, -15, -14, -13, -12, -11])
axAdev.yaxis.set_minor_locator(MultipleLocator(0.5))
styleAxes(axAdev, 9.8, 4.8, 9.5)
axAdev.set_xlabel('Averaging time, log(τ) (s)', fontsize=21, fontweight='bold', labelpad=1.5)
axAdev.set_ylabel('Modified Allan Deviation (10$^{-15}$)', fontsize=21, fontweight='bold')
axAdev.yaxis.set_label_coords(-0.148, 0.5)

# time deviation
axTdev = fig.add_axes([0.5737, 0.0672, 0.3625, 0.2147])
tdevLog = np.log10(tdevVal) - 10
axTdev.plot(logTau, tdevLog, 'o', color='black', ms=7.5)
for x, y, v in zip(logTau, tdevLog, tdevVal):
    axTdev.annotate('%.1f' % v, (x, y), xytext=(0, 21.5), textcoords='offset points',
                    ha='center', va='baseline', color='red', fontsize=11.8,
                    fontweight='bold')
axTdev.plot(logMark, np.full(len(logMark), 0.0086), 'o', color='black', ms=7.5,
            transform=axTdev.get_xaxis_transform(), clip_on=False)
for x, name in zip(logMark, markName):
    axTdev.annotate(name, (x, 0.0086), xycoords=axTdev.get_xaxis_transform(), xytext=(0, 18.7),
                    textcoords='offset points', ha='center', va='baseline',
                    color='red', fontsize=14, fontweight='bold')
axTdev.set_xlim(2.75, 6)
axTdev.set_ylim(-10, -8.5)
axTdev.set_xticks([3, 4, 5, 6])
axTdev.xaxis.set_minor_locator(MultipleLocator(0.5))
axTdev.set_yticks([-10, -9])
axTdev.yaxis.set_minor_locator(MultipleLocator(0.5))
styleAxes(axTdev, 9.8, 4.8, 9.5)
axTdev.set_xlabel('Averaging time, log(τ) (s)', fontsize=21, fontweight='bold', labelpad=1.5)
axTdev.set_ylabel('Time deviation (10$^{-10}$ s)', fontsize=21, fontweight='bold')
axTdev.yaxis.set_label_coords(-0.153, 0.5)

fig.savefig('out.png', dpi=100, facecolor='white')
